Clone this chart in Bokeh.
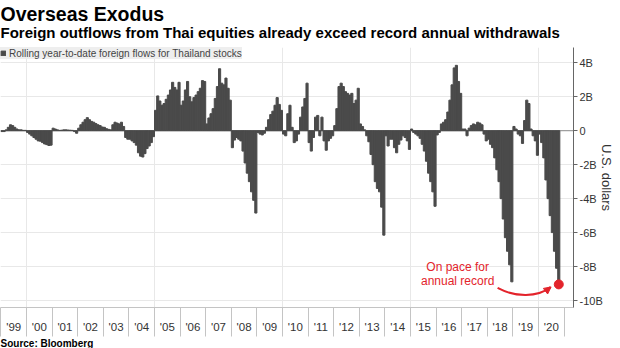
from bokeh.plotting import figure
from bokeh.models import (Range1d, FixedTicker, CustomJSTickFormatter, Legend, LegendItem,
                          Span, Title, Label, Arrow, NormalHead, ColumnDataSource)
from bokeh.embed import file_html
from bokeh.resources import INLINE

# ---- data: rolling year-to-date foreign flows, billions of US$, one value per month ----
fy1999 = [-0.05, -0.05, 0.05, 0.2, 0.35, 0.3, 0.2, 0.1, 0.05, 0.05, 0.02, 0.02]
fy2000 = [-0.1, -0.2, -0.3, -0.4, -0.5, -0.6, -0.62, -0.7, -0.78, -0.82, -0.87, -0.85]
fy2001 = [0.15, 0.1, 0.05, 0.02, 0.03, 0.05, 0.05, 0.04, 0.03, 0.02, -0.05, -0.15]
fy2002 = [0.15, 0.35, 0.5, 0.65, 0.77, 0.65, 0.55, 0.5, 0.42, 0.35, 0.3, 0.22]
fy2003 = [0.2, 0.12, 0.08, 0.05, 0.35, 0.5, 0.45, 0.4, 0.5, 0.25, -0.4, -0.5]
fy2004 = [-0.5, -0.6, -0.7, -0.85, -1.3, -1.5, -1.55, -1.35, -1.05, -0.9, -0.7, -0.35]
fy2005 = [1.2, 2.05, 1.75, 1.5, 1.6, 1.85, 2.1, 2.4, 2.85, 2.55, 2.4, 2.85]
fy2006 = [1.5, 1.75, 2.4, 2.9, 2.0, 1.7, 1.95, 2.1, 2.3, 2.5, 2.95, 2.9]
fy2007 = [0.4, 0.75, 1.0, 1.3, 1.9, 2.6, 3.65, 2.8, 2.7, 3.1, 2.5, 1.8]
fy2008 = [-1.0, -0.55, -0.4, -0.5, -0.6, -1.2, -1.9, -2.5, -3.0, -3.6, -4.1, -4.85]
fy2009 = [-0.1, -0.2, -0.25, -0.15, 0.2, 0.65, 0.95, 1.15, 1.5, 1.95, 1.55, 1.2]
fy2010 = [-0.2, -0.3, 1.0, 1.5, 0.2, -0.7, -0.6, -0.2, 0.8, 1.4, 1.9, 2.8]
fy2011 = [-0.7, -1.2, -0.4, 0.8, 0.9, -0.3, 0.8, -0.6, -1.15, -0.6, -0.45, -0.3]
fy2012 = [0.3, 1.3, 2.6, 2.8, 2.6, 2.3, 2.2, 2.1, 2.2, 1.6, 1.8, 2.5]
fy2013 = [0.4, 0.25, 0.05, -0.3, -0.65, -1.4, -2.0, -3.0, -3.4, -3.6, -4.5, -6.15]
fy2014 = [-0.3, -0.9, -0.5, -0.5, -1.0, -1.3, -0.8, -0.55, -0.3, -0.4, -0.6, -1.1]
fy2015 = [0.1, -0.1, -0.2, -0.3, -0.45, -0.8, -1.2, -1.8, -2.5, -3.0, -3.6, -4.45]
fy2016 = [-0.25, -0.1, 0.4, 0.5, 0.65, 1.1, 1.8, 2.7, 3.7, 3.85, 2.9, 2.2]
fy2017 = [0.1, 0.1, -0.3, 0.15, 0.3, 0.4, 0.35, 0.5, 0.45, 0.35, -0.2, -0.6]
fy2018 = [-0.5, -0.8, -1.0, -1.6, -2.3, -3.0, -4.0, -5.2, -6.3, -7.1, -7.9, -8.9]
fy2019 = [0.25, 0.1, -0.2, -0.3, -0.75, 0.6, 1.8, 1.6, 0.1, -0.3, -0.6, -1.45]
fy2020 = [-0.2, -0.7, -1.6, -2.9, -4.0, -5.0, -6.0, -7.1, -8.1, -9.05]

years = list(range(1999, 2021))
year_labels = ["'99", "'00", "'01", "'02", "'03", "'04", "'05", "'06", "'07", "'08", "'09",
               "'10", "'11", "'12", "'13", "'14", "'15", "'16", "'17", "'18", "'19", "'20"]
y_ticks = [4, 2, 0, -2, -4, -6, -8, -10]
y_labels = ["4B", "2B", "0", "-2B", "-4B", "-6B", "-8B", "-10B"]

title_text = "Overseas Exodus"
subtitle_text = "Foreign outflows from Thai equities already exceed record annual withdrawals"
legend_text = "Rolling year-to-date foreign flows for Thailand stocks"
source_text = "Source: Bloomberg"
note_lines = ["On pace for", "annual record"]

series = [fy1999, fy2000, fy2001, fy2002, fy2003, fy2004, fy2005, fy2006, fy2007, fy2008, fy2009,
          fy2010, fy2011, fy2012, fy2013, fy2014, fy2015, fy2016, fy2017, fy2018, fy2019, fy2020]

xs, vals = [], []
for yr, arr in zip(years, series):
    for m, v in enumerate(arr):
        xs.append(yr + (m + 0.5) / 12)
        vals.append(v)

BAR = "#4a4a4a"
RED = "#e3232b"
GRID = "#e8e8e8"
TXT = "#333333"
FONT = "Liberation Sans"

p = figure(width=620, height=348, output_backend="svg", toolbar_location=None,
           x_range=Range1d(1998.984, 2021.367), y_range=Range1d(-10.41, 4.9),
           y_axis_location="right", title=None,
           min_border_left=0, min_border_right=47, min_border_top=47, min_border_bottom=40)
p.outline_line_color = None
p.background_fill_color = "white"
p.border_fill_color = "white"

# grids
p.ygrid.grid_line_color = GRID
p.xgrid.grid_line_color = GRID
p.xgrid.ticker = FixedTicker(ticks=[2000, 2005, 2010, 2015, 2020])

zero = Span(location=0, dimension="width", line_color="#8c8c8c", line_width=1, level="underlay")
p.add_layout(zero)

src = ColumnDataSource(dict(x=xs, top=vals))
r = p.vbar(x="x", top="top", bottom=0, width=1 / 12, source=src,
           fill_color=BAR, line_color=BAR, line_width=1.0)

# x axis: labels centred in each year, separator ticks at year boundaries
xa = p.xaxis[0]
xa.ticker = FixedTicker(ticks=[y + 0.5 for y in years], minor_ticks=years + [years[-1] + 1])
xa.formatter = CustomJSTickFormatter(args=dict(xlabs=year_labels, first=years[0]),
                                     code="return xlabs[Math.floor(tick) - first];")
xa.major_tick_out = 0
xa.major_tick_in = 0
xa.minor_tick_out = 29
xa.minor_tick_in = 0
xa.minor_tick_line_color = "#c4c4c4"
xa.axis_line_color = "#c4c4c4"
xa.major_label_standoff = -16
xa.major_label_text_font = FONT
xa.major_label_text_font_size = "11.5px"
xa.major_label_text_color = TXT

ya = p.yaxis[0]
ya.ticker = FixedTicker(ticks=y_ticks)
ya.formatter = CustomJSTickFormatter(args=dict(yvals=y_ticks, ylabs=y_labels),
                                     code="const k = yvals.indexOf(tick); return k >= 0 ? ylabs[k] : '';")
ya.major_tick_out = 4
ya.major_tick_in = 0
ya.minor_tick_out = 0
ya.minor_tick_in = 0
ya.axis_line_color = "#666666"
ya.major_tick_line_color = "#666666"
ya.major_label_standoff = 2
ya.major_label_text_font = FONT
ya.major_label_text_font_size = "11px"
ya.major_label_text_color = TXT
ya.axis_label = "U.S. dollars"
ya.axis_label_text_font = FONT
ya.axis_label_text_font_size = "13px"
ya.axis_label_text_font_style = "normal"
ya.axis_label_text_color = TXT
ya.axis_label_standoff = -7

legend = Legend(items=[LegendItem(label=legend_text, renderers=[r])], location="top_left",
                margin=0, padding=7, spacing=0, glyph_width=6, glyph_height=6, label_standoff=3,
                label_height=12, background_fill_color="#eeeeee", background_fill_alpha=1.0,
                border_line_color=None, label_text_font=FONT,
                label_text_font_size="10px", label_text_color="#444444")
p.add_layout(legend)

# highlight of the latest reading
lx, lv = xs[-1], vals[-1]
p.scatter(x=[lx], y=[lv], size=9, color=RED)
p.bezier(x0=[lx - 2.39], y0=[lv - 0.21], x1=[lx - 0.32], y1=[lv - 0.16],
         cx0=[lx - 1.69], cy0=[lv - 0.77], cx1=[lx - 0.83], cy1=[lv - 0.77],
         line_color=RED, line_width=2)
p.add_layout(Arrow(end=NormalHead(size=7, fill_color=RED, line_color=RED),
                   x_start=lx - 0.44, y_start=lv - 0.31, x_end=lx - 0.30, y_end=lv - 0.15,
                   line_color=RED, line_width=2))
for i, t in enumerate(note_lines):
    p.add_layout(Label(x=lx - 3.95, y=lv + 1.04 - 0.82 * i, text=t, text_align="center",
                       text_baseline="middle", text_color=RED, text_font=FONT,
                       text_font_size="12px"))

p.add_layout(Title(text=subtitle_text, text_font=FONT, text_font_size="15px",
                   text_font_style="bold", text_color="#000000", align="left", standoff=13,
                   offset=0), "above")
p.add_layout(Title(text=title_text, text_font=FONT, text_font_size="19.5px",
                   text_font_style="bold", text_color="#000000", align="left", standoff=-18,
                   offset=0), "above")
p.add_layout(Title(text=source_text, text_font=FONT, text_font_size="10px",
                   text_font_style="bold", text_color="#000000", align="left", standoff=0,
                   offset=0), "below")

open("out.html", "w").write(file_html(p, INLINE))
